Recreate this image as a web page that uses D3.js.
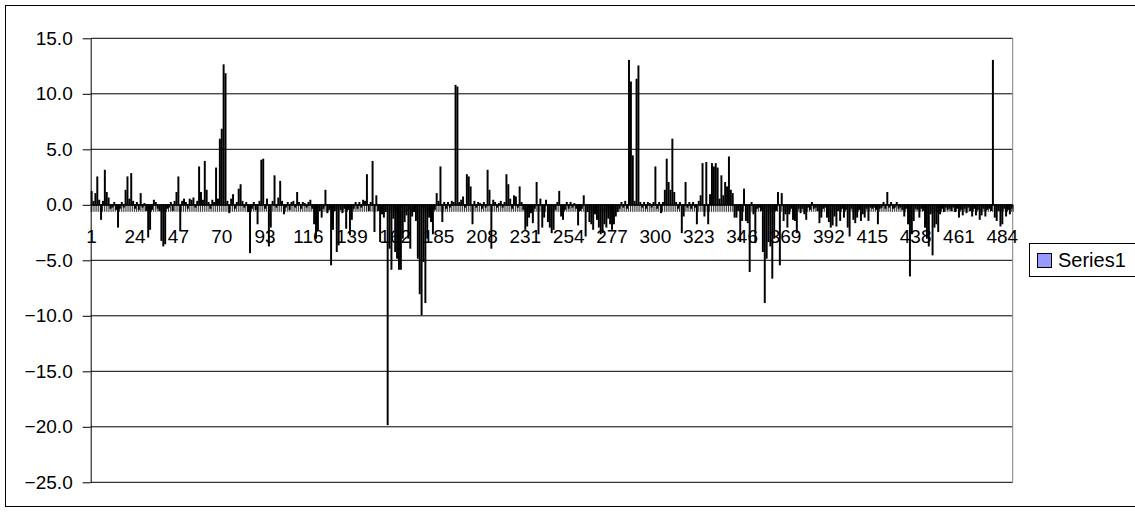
<!DOCTYPE html>
<html>
<head>
<meta charset="utf-8">
<script src="https://cdn.jsdelivr.net/npm/d3@7"></script>
<style>
  body { margin: 0; background: #fff; }
  svg text { font-family: "Liberation Sans", Arial, sans-serif; }
</style>
</head>
<body>
<div id="chart"></div>
<script>
// Values, one per category (1..489)
const values = [
  1.2, 0.3, 1.0, 2.5, 0.4, -1.3, 0.3, 3.1, 1.1, 0.6,
  -0.3, -0.2, 0.2, -0.4, -2.0, -0.3, 0.2, -0.2, 1.3, 2.5,
  0.5, 2.8, 0.3, -0.3, 0.2, -0.4, 1.0, -0.2, 0.1, -0.5,
  -2.9, -2.2, -0.4, 0.4, 0.2, -0.3, -0.5, -3.2, -3.7, -3.5,
  -0.3, -0.2, 0.2, -0.5, 0.3, 1.1, 2.5, -2.3, 0.3, 0.5,
  0.2, -0.3, 0.5, 0.4, 0.6, -0.2, 0.3, 3.4, 1.1, 0.4,
  3.9, 1.3, 0.2, -0.3, 0.4, 0.2, 3.3, 0.5, 5.9, 6.8,
  12.6, 11.8, 0.3, -0.7, 0.5, 0.9, -0.3, 0.2, 1.4, 1.8,
  0.3, -0.2, 0.2, -0.6, -4.3, -0.3, 0.2, -0.4, -1.7, 0.3,
  4.0, 4.1, -0.3, 0.5, -3.7, -2.0, 0.3, 2.6, -0.2, 0.6,
  2.1, 0.3, -0.8, -0.2, 0.2, -0.4, 0.2, 0.3, -0.2, 1.1,
  0.2, -0.3, 0.2, 0.1, -0.2, 0.2, 0.4, -0.3, -1.7, -3.0,
  -2.3, -0.5, -1.1, -0.3, 1.3, -0.7, -0.4, -5.4, -2.2, -0.5,
  -4.2, -3.6, -0.4, -0.7, -0.3, -2.1, -0.4, -2.7, -1.3, -0.3,
  0.2, -0.3, 0.2, -0.2, 0.4, 0.3, 2.7, -0.5, 0.2, 3.9,
  -2.4, 0.8, -0.5, -3.3, -0.8, -1.1, -0.6, -19.8, -3.9, -5.8,
  -1.2, -4.2, -4.8, -5.8, -5.8, -3.0, -1.5, -0.9, -3.0, -3.9,
  -1.0, -0.6, -1.4, -4.8, -8.0, -9.9, -5.1, -8.8, -3.0, -1.1,
  -1.5, -2.6, -0.4, 1.0, 0.3, 3.4, -1.5, 0.2, -0.3, 0.2,
  -0.2, 0.3, 0.2, 10.75, 10.6, 0.2, 0.4, 0.7, -0.2, 2.7,
  2.5, 1.6, -1.7, 0.3, -0.2, 0.2, 0.1, -0.3, 0.2, -0.2,
  3.1, 1.3, -3.9, 0.4, 0.2, -0.2, 0.1, 0.3, -0.2, 0.2,
  2.7, 1.8, 0.5, -0.3, 0.8, 0.7, -0.2, 1.6, 0.2, -0.4,
  -2.2, -1.9, -1.1, -0.7, -1.6, -0.3, 2.0, -2.6, 0.5, -2.0,
  -1.1, 0.4, -1.5, -2.0, -2.5, -2.2, -0.4, 0.2, 1.2, -1.0,
  -1.3, -0.4, 0.2, -0.3, 0.2, -0.2, 0.1, -0.3, -1.8, -0.5,
  -0.3, 0.8, -2.8, -0.6, -1.5, -1.7, -2.2, -0.8, -1.3, -2.0,
  -2.6, -2.5, -1.7, -2.0, -1.2, -1.7, -2.2, -1.7, -1.0, -0.6,
  -0.3, 0.2, -0.2, 0.3, -0.3, 13.0, 11.05, 4.4, 0.3, 11.3,
  12.5, 0.2, -0.2, 0.2, -0.3, 0.2, 0.1, -0.2, 0.2, 3.4,
  -0.3, 0.2, -0.7, 0.2, 1.3, 4.1, 2.0, 1.3, 5.9, 1.1,
  0.2, -0.3, 0.2, -2.5, -1.0, 2.0, -0.2, 0.2, -0.3, 0.2,
  -0.2, -1.7, 0.3, 0.8, 3.7, -1.0, 3.8, -1.7, 0.9, 3.7,
  3.4, 3.7, 3.3, 0.5, 2.6, 0.8, 2.0, 1.6, 4.3, 1.3,
  1.0, -1.1, -1.1, -0.5, -3.3, -1.4, 1.4, -1.4, -1.6, -6.0,
  0.2, -0.8, -3.4, -0.3, -0.2, -0.5, -4.2, -8.8, -4.8, -3.3,
  -3.7, -6.6, -3.0, -0.5, 1.1, -5.4, 1.0, -1.4, -0.8, -2.0,
  -0.8, -0.3, -1.3, -1.4, -2.5, -0.3, -0.7, -0.3, -0.8, -1.3,
  -0.2, -0.4, 0.2, -0.3, -0.2, -0.5, -1.6, -1.1, -0.3, -0.2,
  -1.1, -1.5, -2.0, -1.8, -1.0, -1.9, -0.5, -1.4, -0.3, -1.1,
  -0.4, -2.0, -2.8, -0.3, -1.3, -1.6, -1.1, -0.4, -1.4, -0.8,
  -1.1, -0.3, -1.4, -0.2, -0.3, -0.2, -0.4, -1.7, -0.3, -0.2,
  0.2, -0.3, 1.1, -0.2, 0.2, -0.3, -0.2, 0.2, -0.3, -0.2,
  -0.4, -1.0, -0.3, -1.7, -6.4, -2.6, -1.4, -0.3, -0.4, -1.1,
  -0.3, -0.5, -2.0, -3.0, -3.7, -0.8, -4.5, -2.0, -1.7, -2.4,
  -0.8, -0.3, -0.6, -0.2, -0.4, -0.3, -0.5, -0.2, -0.6, -0.3,
  -1.1, -0.4, -0.9, -0.3, -0.7, -0.2, -0.5, -1.0, -0.3, -0.9,
  -0.4, -1.3, -0.9, -0.3, -1.0, -0.4, -0.3, -0.5, 13.0, -1.1,
  -1.4, -0.5, -1.9, -1.7, -0.3, -1.0, -0.4, -0.8, -0.3
];
const categories = values.map((d, i) => i + 1);
const categoryLabels = [1, 24, 47, 70, 93, 116, 139, 162, 185, 208, 231, 254,
  277, 300, 323, 346, 369, 392, 415, 438, 461, 484];
const yTicks = [-25, -20, -15, -10, -5, 0, 5, 10, 15];
const seriesName = "Series1";

const width = 1135, height = 512;
const plot = { left: 90.7, right: 1012.7, top: 38.3, bottom: 482.3 };

const svg = d3.select("#chart").append("svg")
  .attr("width", width)
  .attr("height", height);

// outer chart border (right side runs past the picture)
svg.append("rect")
  .attr("x", 5.5).attr("y", 5.5)
  .attr("width", 1200).attr("height", 501)
  .attr("fill", "#fff").attr("stroke", "#000");

// Scales
const x = d3.scaleBand()
  .domain(categories)
  .range([plot.left, plot.right])
  .paddingInner(0).paddingOuter(0);

const xEdge = d3.scaleLinear()
  .domain([0, categories.length])
  .range([plot.left, plot.right]);

const y = d3.scaleLinear()
  .domain([-25, 15])
  .range([plot.bottom, plot.top]);

// gridlines
svg.append("g")
  .selectAll("line")
  .data(yTicks)
  .join("line")
  .attr("x1", plot.left).attr("x2", plot.right)
  .attr("y1", d => y(d)).attr("y2", d => y(d))
  .attr("stroke", "#000").attr("stroke-width", 1);

// right edge of the plot area
svg.append("line")
  .attr("x1", plot.right).attr("x2", plot.right)
  .attr("y1", plot.top).attr("y2", plot.bottom)
  .attr("stroke", "#808080");

// y axis
svg.append("g")
  .attr("transform", `translate(${plot.left},0)`)
  .call(d3.axisLeft(y).tickValues(yTicks).tickFormat(d3.format(".1f")).tickSize(8).tickPadding(10).tickSizeOuter(0))
  .call(g => g.selectAll("text").attr("font-size", 19).attr("fill", "#000").attr("font-family", "Liberation Sans, Arial, sans-serif"))
  .call(g => g.selectAll("line, path").attr("stroke", "#000"));

// category labels
svg.append("g")
  .attr("transform", `translate(0,${y(0)})`)
  .call(d3.axisBottom(x).tickValues(categoryLabels).tickSize(0).tickPadding(25))
  .call(g => g.select(".domain").remove())
  .call(g => g.selectAll("text").attr("font-size", 19).attr("fill", "#000").attr("font-family", "Liberation Sans, Arial, sans-serif"));

// category tick marks between bars
svg.append("g")
  .attr("transform", `translate(0,${y(0)})`)
  .call(d3.axisBottom(xEdge).tickValues(d3.range(0, categories.length + 1)).tickFormat("").tickSize(7).tickSizeOuter(0))
  .call(g => g.selectAll("line, path").attr("stroke", "#000").attr("stroke-width", 0.8));

// bars
const bw = x.bandwidth() * 0.4;
svg.append("g")
  .selectAll("rect")
  .data(values)
  .join("rect")
  .attr("x", (d, i) => x(categories[i]) + (x.bandwidth() - bw) / 2)
  .attr("y", d => y(Math.max(0, d)))
  .attr("width", bw)
  .attr("height", d => Math.abs(y(d) - y(0)))
  .attr("fill", "#9999ff")
  .attr("stroke", "#000")
  .attr("stroke-width", 1.2);

// legend
const legend = svg.append("g");
legend.append("rect")
  .attr("x", 1029.5).attr("y", 243.5)
  .attr("width", 110).attr("height", 33)
  .attr("fill", "#fff").attr("stroke", "#000");
legend.append("rect")
  .attr("x", 1037.5).attr("y", 253.5)
  .attr("width", 14).attr("height", 14)
  .attr("fill", "#9999ff").attr("stroke", "#000");
legend.append("text")
  .attr("x", 1058).attr("y", 267)
  .attr("font-size", 20)
  .text(seriesName);
</script>
</body>
</html>
